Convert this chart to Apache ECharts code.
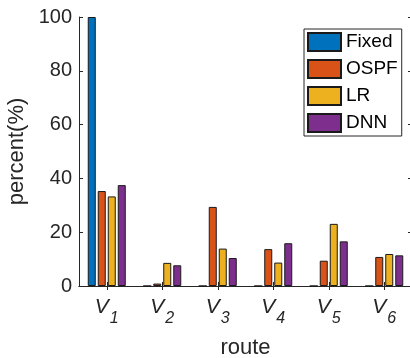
<!DOCTYPE html>
<html>
<head>
<meta charset="utf-8">
<script src="https://cdn.jsdelivr.net/npm/echarts@6/dist/echarts.min.js"></script>
<style>
  html, body { margin: 0; padding: 0; background: #fff; }
  #chart { width: 410px; height: 358px; }
</style>
</head>
<body>
<div id="chart"></div>
<script>
// Route share per method (percent)
const routes = ['1', '2', '3', '4', '5', '6'];
const fixed = [100, 0, 0, 0, 0, 0];
const ospf = [35.3, 0.9, 29.4, 13.7, 9.4, 10.8];
const lr = [33.3, 8.6, 13.9, 8.7, 23.1, 11.9];
const dnn = [37.5, 7.7, 10.4, 15.9, 16.6, 11.4];
const yTicks = [0, 20, 40, 60, 80, 100];

const FONT = '"Liberation Sans", Arial, Helvetica, sans-serif';
const INK = '#262626';

const chart = echarts.init(document.getElementById('chart'), null, { renderer: 'canvas' });

function barSeries(name, data, color) {
  return {
    name: name,
    type: 'bar',
    data: data,
    barWidth: 8,
    barGap: '25%',
    itemStyle: { color: color, borderColor: '#1a1a1a', borderWidth: 1 },
    emphasis: { disabled: true }
  };
}

const axisLine = { show: true, lineStyle: { color: INK, width: 1 } };

chart.setOption({
  animation: false,
  backgroundColor: '#fff',
  textStyle: { fontFamily: FONT, color: INK },
  grid: { left: 79, top: 17, right: -2, bottom: 72, containLabel: false, outerBoundsMode: 'none' },
  legend: {
    orient: 'vertical',
    left: 304,
    top: 29,
    padding: [3, 4, 3, 3],
    itemWidth: 33,
    itemHeight: 18,
    itemGap: 7,
    backgroundColor: '#fff',
    borderColor: INK,
    borderWidth: 1,
    icon: 'rect',
    textStyle: { fontFamily: FONT, fontSize: 19, color: '#000', lineHeight: 18 },
    data: ['Fixed', 'OSPF', 'LR', 'DNN']
  },
  xAxis: [
    {
      type: 'category',
      data: routes,
      position: 'bottom',
      boundaryGap: true,
      axisLine: axisLine,
      axisTick: { show: true, inside: true, alignWithLabel: true, interval: 0, length: 4, lineStyle: { color: INK } },
      axisLabel: {
        interval: 0,
        margin: 11,
        formatter: function (v) { return '{v|V}{s|' + v + '}'; },
        rich: {
          v: { fontFamily: FONT, fontSize: 21, fontStyle: 'italic', color: INK, lineHeight: 22, verticalAlign: 'top' },
          s: { fontFamily: FONT, fontSize: 16, fontStyle: 'italic', color: INK, lineHeight: 17, verticalAlign: 'top', padding: [14, 0, 0, 1] }
        }
      },
      name: 'route',
      nameLocation: 'middle',
      nameGap: 51,
      nameTextStyle: { fontFamily: FONT, fontSize: 22, color: INK }
    },
    {
      type: 'category',
      data: routes,
      position: 'top',
      boundaryGap: true,
      axisLine: axisLine,
      axisTick: { show: true, inside: true, alignWithLabel: true, interval: 0, length: 4, lineStyle: { color: INK } },
      axisLabel: { show: false }
    }
  ],
  yAxis: [
    {
      type: 'value',
      min: 0,
      max: 100,
      interval: 20,
      position: 'left',
      axisLine: axisLine,
      axisTick: { show: true, inside: true, length: 4, lineStyle: { color: INK } },
      splitLine: { show: false },
      axisLabel: {
        margin: 7,
        fontFamily: FONT,
        fontSize: 20,
        color: INK,
        formatter: function (v) { return yTicks.indexOf(v) >= 0 ? String(v) : ''; }
      },
      name: 'percent(%)',
      nameLocation: 'middle',
      nameGap: 46,
      nameTextStyle: { fontFamily: FONT, fontSize: 22, color: INK }
    },
    {
      type: 'value',
      min: 0,
      max: 100,
      interval: 20,
      position: 'right',
      axisLine: { show: false },
      axisTick: { show: true, inside: true, length: 4, lineStyle: { color: INK } },
      splitLine: { show: false },
      axisLabel: { show: false }
    }
  ],
  series: [
    barSeries('Fixed', fixed, '#0072BD'),
    barSeries('OSPF', ospf, '#D95319'),
    barSeries('LR', lr, '#EDB120'),
    barSeries('DNN', dnn, '#7E2F8E')
  ]
});
</script>
</body>
</html>
